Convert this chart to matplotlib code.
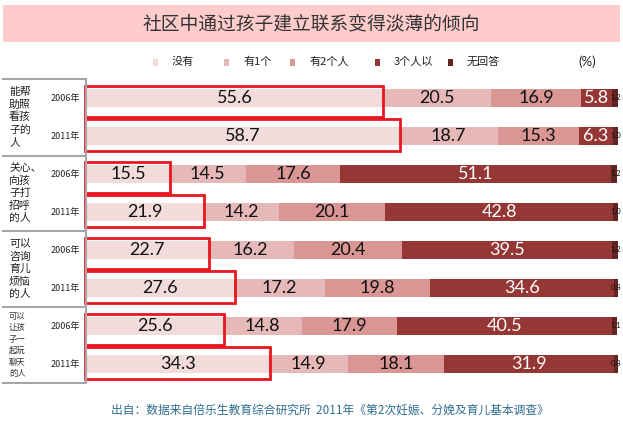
import matplotlib
matplotlib.use("Agg")
import matplotlib.pyplot as plt
from matplotlib.patches import Rectangle
from matplotlib.lines import Line2D

plt.rcParams['font.family'] = ['Noto Sans CJK SC', 'DejaVu Sans']

# ---------------- data ----------------
title = "社区中通过孩子建立联系变得淡薄的倾向"
source = "出自：数据来自倍乐生教育综合研究所  2011年《第2次妊娠、分娩及育儿基本调查》"
categories = ["没有", "有1个", "有2个人", "3个人以", "无回答"]
group_labels = ["能帮\n助照\n看孩\n子的\n人",
                "关心、\n向孩\n子打\n招呼\n的人",
                "可以\n咨询\n育儿\n烦恼\n的人",
                "可以\n让孩\n子一\n起玩\n聊天\n的人"]
years = ["2006年", "2011年"]

none_ = [55.6, 58.7, 15.5, 21.9, 22.7, 27.6, 25.6, 34.3]
one = [20.5, 18.7, 14.5, 14.2, 16.2, 17.2, 14.8, 14.9]
two = [16.9, 15.3, 17.6, 20.1, 20.4, 19.8, 17.9, 18.1]
three_plus = [5.8, 6.3, 51.1, 42.8, 39.5, 34.6, 40.5, 31.9]
no_answer = [1.2, 1.0, 1.2, 1.0, 1.2, 0.8, 1.1, 0.8]

series = [none_, one, two, three_plus, no_answer]
colors = ["#F2DCDB", "#E6B9B8", "#D99694", "#953735", "#632523"]
label_colors = ["#111111", "#111111", "#111111", "white", "#111111"]

W, H = 623, 426
fig = plt.figure(figsize=(W / 100, H / 100), dpi=100)
fig.patch.set_facecolor("white")


def fx(x):
    return x / W


def fy(y):
    return 1 - y / H


# title band
fig.patches.append(Rectangle((fx(3), fy(42)), fx(617), 37 / H, transform=fig.transFigure,
                             facecolor="#FFCCCC", edgecolor="none", zorder=0))
fig.text(fx(311), fy(24), title, ha="center", va="center", fontsize=13.5, color="#333333")

# legend (manual)
leg_sq_x = [153, 224, 290, 375, 448]
for sx, c, name in zip(leg_sq_x, colors, categories):
    fig.patches.append(Rectangle((fx(sx), fy(66)), 5 / W, 7 / H, transform=fig.transFigure,
                                 facecolor=c, edgecolor="none"))
    fig.text(fx(sx + 19), fy(62), name, ha="left", va="center", fontsize=8, color="#222222")
fig.text(fx(578), fy(62), "(%)", ha="left", va="center", fontsize=9.5, color="#222222",
         family=["Lato", "DejaVu Sans"])

# main axes
top, bottom, left, right = 79, 383, 87, 618
ax = fig.add_axes([fx(left), fy(bottom), (right - left) / W, (bottom - top) / H])
ax.set_xlim(0, 100)
ax.set_ylim(8, 0)
ax.axis("off")

n = len(none_)
ypos = [i + 0.5 for i in range(n)]
bh = 0.48
lefts = [0.0] * n
for k, (vals, c) in enumerate(zip(series, colors)):
    ax.barh(ypos, vals, left=lefts, height=bh, color=c, edgecolor="none", zorder=2)
    for i in range(n):
        cx = lefts[i] + vals[i] / 2
        if k == 4:
            ax.text(99.6, ypos[i], f"{vals[i]:.1f}", ha="center", va="center", fontsize=5.5,
                    color=label_colors[k], family=["Lato", "DejaVu Sans"], zorder=5)
        else:
            ax.text(cx, ypos[i], f"{vals[i]:.1f}", ha="center", va="center", fontsize=13,
                    color=label_colors[k], family=["Lato", "DejaVu Sans"], zorder=5)
    lefts = [l + v for l, v in zip(lefts, vals)]

# red highlight boxes around first segment
for i in range(n):
    if i % 2 == 0:
        y0, y1 = ypos[i] - 0.32, ypos[i] + 0.5
    else:
        y0, y1 = ypos[i] - 0.45, ypos[i] + 0.4
    ax.add_patch(Rectangle((-0.3, y0), none_[i] + 0.5, y1 - y0, fill=False,
                           edgecolor="#E8161E", linewidth=2.0, clip_on=False, zorder=6))

# left table lines
gray = "#A6A6A6"
for yy in [79, 156, 231, 307, 383]:
    fig.lines.append(Line2D([fx(3), fx(86)], [fy(yy), fy(yy)], transform=fig.transFigure,
                            color=gray, lw=1.5))
fig.lines.append(Line2D([fx(86), fx(86)], [fy(79), fy(383)], transform=fig.transFigure,
                        color=gray, lw=1.5))

# year labels
for i in range(n):
    ypx = top + (i + 0.5) * 38
    fig.text(fx(65), fy(ypx), years[i % 2], ha="center", va="center", fontsize=6.5,
             color="#222222")

# group labels
for g, lab in enumerate(group_labels):
    lines = lab.split("\n")
    center = top + (2 * g + 1) * 38
    if len(lines) > 5:
        step, fs, col = 11.4, 6, "#333333"
    else:
        step, fs, col = 12.5, 7.8, "#222222"
    m = len(lines)
    for j, t in enumerate(lines):
        ypx = center + (j - (m - 1) / 2) * step
        fig.text(fx(9), fy(ypx), t, ha="left", va="center", fontsize=fs, color=col)

# source
fig.text(fx(330), fy(410), source, ha="center", va="center", fontsize=8.5, color="#2F6F8F")

fig.savefig("out.png", dpi=100, facecolor="white")
